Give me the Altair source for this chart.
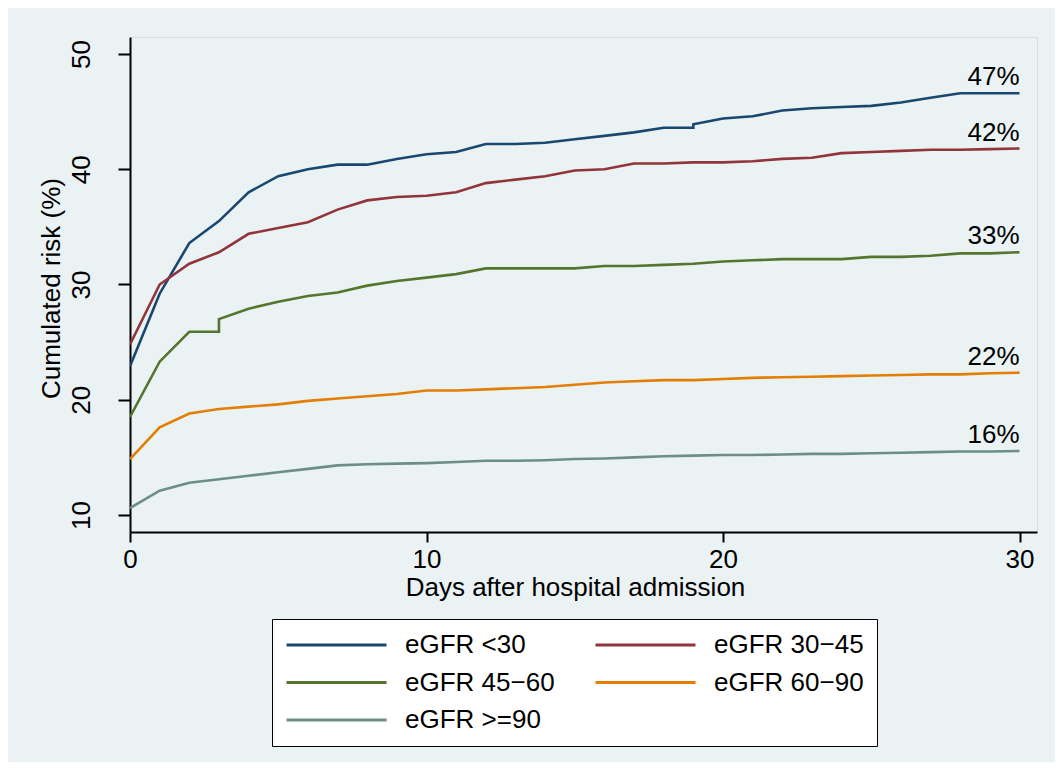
import altair as alt
import pandas as pd

# ---- data ----
groups = ["eGFR <30", "eGFR 30\u221245", "eGFR 45\u221260", "eGFR 60\u221290", "eGFR >=90"]
colors = ["#1a476f", "#90353b", "#55752f", "#e37e00", "#6e8e84"]
end_labels = ["47%", "42%", "33%", "22%", "16%"]

days_std = list(range(31))

blue_days = list(range(20)) + [19] + list(range(20, 31))
blue_vals = [22.9, 29.2, 33.6, 35.5, 38.0, 39.4, 40.0, 40.4, 40.4, 40.9,
             41.3, 41.5, 42.2, 42.2, 42.3, 42.6, 42.9, 43.2, 43.6, 43.6,
             43.9,
             44.4, 44.6, 45.1, 45.3, 45.4, 45.5, 45.8, 46.2, 46.6, 46.6, 46.6]

red_days = days_std
red_vals = [24.8, 30.0, 31.8, 32.8, 34.4, 34.9, 35.4, 36.5, 37.3, 37.6,
            37.7, 38.0, 38.8, 39.1, 39.4, 39.9, 40.0, 40.5, 40.5, 40.6,
            40.6, 40.7, 40.9, 41.0, 41.4, 41.5, 41.6, 41.7, 41.7, 41.75, 41.8]

green_days = [0, 1, 2, 3, 3] + list(range(4, 31))
green_vals = [18.5, 23.3, 25.9, 25.9, 27.0, 27.9, 28.5, 29.0, 29.3, 29.9,
              30.3, 30.6, 30.9, 31.4, 31.4, 31.4, 31.4, 31.6, 31.6, 31.7,
              31.8, 32.0, 32.1, 32.2, 32.2, 32.2, 32.4, 32.4, 32.5, 32.7,
              32.7, 32.8]

orange_days = days_std
orange_vals = [14.85, 17.6, 18.8, 19.2, 19.4, 19.6, 19.9, 20.1, 20.3, 20.5,
               20.8, 20.8, 20.9, 21.0, 21.1, 21.3, 21.5, 21.6, 21.7, 21.7,
               21.8, 21.9, 21.95, 22.0, 22.05, 22.1, 22.15, 22.2, 22.2, 22.3, 22.35]

gray_days = days_std
gray_vals = [10.6, 12.1, 12.8, 13.1, 13.4, 13.7, 14.0, 14.3, 14.4, 14.45,
             14.5, 14.6, 14.7, 14.7, 14.75, 14.85, 14.9, 15.0, 15.1, 15.15,
             15.2, 15.2, 15.25, 15.3, 15.3, 15.35, 15.4, 15.45, 15.5, 15.5, 15.55]

x_ticks = [0, 10, 20, 30]
y_ticks = [10, 20, 30, 40, 50]

series_days = [blue_days, red_days, green_days, orange_days, gray_days]
series_vals = [blue_vals, red_vals, green_vals, orange_vals, gray_vals]

rows = []
for g, ds, vs in zip(groups, series_days, series_vals):
    for i, (d, v) in enumerate(zip(ds, vs)):
        rows.append({"day": d, "risk": v, "group": g, "idx": i})
df = pd.DataFrame(rows)

lab_df = pd.DataFrame({
    "day": [ds[-1] for ds in series_days],
    "risk": [vs[-1] for vs in series_vals],
    "text": end_labels,
})

BG = "#EAF2F3"
FONT = "Liberation Sans"

x_scale = alt.Scale(domain=[0, 30.59], nice=False, zero=False)
y_scale = alt.Scale(domain=[8.52, 51.48], nice=False, zero=False)

lines = alt.Chart(df).mark_line(strokeWidth=2.6, clip=True).encode(
    x=alt.X("day:Q", scale=x_scale,
            axis=alt.Axis(values=x_ticks, title="Days after hospital admission",
                          grid=False, tickSize=10, tickWidth=2, tickColor="black",
                          domainColor="black", domainWidth=2,
                          labelFontSize=26, labelPadding=4, labelColor="black",
                          labelFont=FONT, labelFlush=False,
                          titleFontSize=26, titleFontWeight="normal", titleColor="black",
                          titleFont=FONT, titleBaseline="alphabetic",
                          titleX=445, titleY=63, titleAlign="center")),
    y=alt.Y("risk:Q", scale=y_scale,
            axis=alt.Axis(values=y_ticks, title="Cumulated risk (%)",
                          grid=True, gridColor=BG, gridWidth=2,
                          tickSize=12, tickWidth=2, tickColor="black",
                          domainColor="black", domainWidth=2,
                          labelFontSize=26, labelAngle=270, labelAlign="center",
                          labelBaseline="alphabetic", labelPadding=29,
                          labelColor="black", labelFont=FONT, labelFlush=False,
                          titleFontSize=26, titleFontWeight="normal", titleColor="black",
                          titleFont=FONT, titleAngle=270, titleBaseline="alphabetic",
                          titleAlign="center", titleX=-71, titleY=251)),
    color=alt.Color("group:N",
                    scale=alt.Scale(domain=groups, range=colors),
                    sort=groups,
                    title=None,
                    legend=alt.Legend(orient="none", legendX=142, legendY=582,
                                      direction="horizontal",
                                      columns=2, symbolType="stroke",
                                      symbolSize=10000, symbolStrokeWidth=3,
                                      clipHeight=26, rowPadding=11.5,
                                      columnPadding=39, labelOffset=17,
                                      padding=13, fillColor="white",
                                      strokeColor="black",
                                      labelFontSize=26, labelFont=FONT,
                                      labelColor="black", labelLimit=400)),
    order=alt.Order("idx:Q"),
)

labels = alt.Chart(lab_df).mark_text(
    align="right", baseline="alphabetic", dy=-8, fontSize=26, font=FONT, color="black"
).encode(
    x=alt.X("day:Q", scale=x_scale),
    y=alt.Y("risk:Q", scale=y_scale),
    text="text:N",
)

chart = alt.layer(lines, labels).properties(
    width=907, height=495,
    autosize=alt.AutoSizeParams(type="none"),
    padding={"left": 122, "top": 29, "right": 18, "bottom": 230},
    background=BG,
).configure_view(fill="white", stroke="transparent").configure(font=FONT)

chart.save("out.html", embed_options={"renderer": "svg", "actions": False})
